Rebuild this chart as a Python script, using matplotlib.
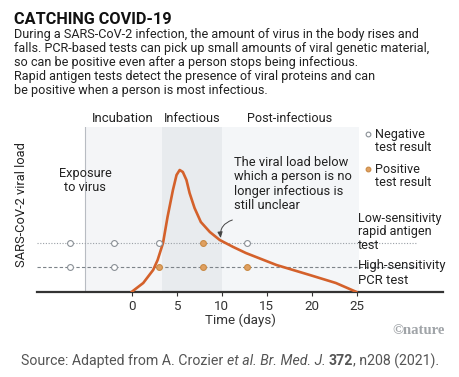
import matplotlib
matplotlib.use("Agg")
import matplotlib.pyplot as plt
import numpy as np

W, H = 460, 377

# viral load curve (days, arbitrary units)
days = [0, 1.3, 2.4, 2.9, 3.5, 4.0, 4.6, 5.0, 5.35, 5.7, 6.1, 6.45, 7.0, 7.7, 8.7, 9.8, 11.3, 12.7, 16.1, 19.8, 22.7, 25]
load = [0, 9, 22, 32, 49, 75, 102, 117, 122, 120, 112, 99, 84, 70, 60, 52, 45, 39, 27, 17, 9, 0]

test_days = [-6.8, -1.9, 3.0, 7.9, 12.8]
antigen_level = 48.7
pcr_level = 25.5
antigen_pos = [False, False, False, True, False]
pcr_pos = [False, False, True, True, True]

phases = ["Incubation", "Infectious", "Post-infectious"]
phase_start = [-5.2, 3.4, 10]
phase_end = [3.4, 10, 25.3]
phase_colors = ["#f4f5f7", "#e8ebee", "#f4f6f8"]
exposure_day = -5.2

xticks = [0, 5, 10, 15, 20, 25]

curve_color = "#d4612b"
pos_color = "#e0a060"
pos_edge = "#c98a45"
neg_edge = "#8a9096"
txt = "#222222"

plt.rcParams['font.family'] = ['Roboto', 'DejaVu Sans']

fig = plt.figure(figsize=(W / 100, H / 100), dpi=100)
fig.canvas.draw()
R = fig.canvas.get_renderer()


def fx(px):
    return px / W


def fy(py):
    return 1 - py / H


def fit(t, width=None, height=None, pitch=None, nlines=1):
    # scale the font so the text spans the width seen in the reference
    bb = t.get_window_extent(renderer=R)
    fs = t.get_fontsize()
    if width is not None:
        fs = fs * width / bb.width
    elif height is not None:
        fs = fs * height / bb.height
    t.set_fontsize(fs)
    if pitch is not None and nlines > 1:
        t.set_linespacing(1.0)
        h1 = t.get_window_extent(renderer=R).height
        s = t.get_text()
        t.set_text(s.split("\n")[0])
        h0 = t.get_window_extent(renderer=R).height
        t.set_text(s)
        cur = (h1 - h0) / (nlines - 1)
        t.set_linespacing(pitch / cur)
    return t


ax = fig.add_axes([fx(37), fy(292), fx(443) - fx(37), fy(127) - fy(292)])
ax.set_xlim(-10.5, 34.6)
ax.set_ylim(0, 165)

for s, e, c in zip(phase_start, phase_end, phase_colors):
    ax.axvspan(s, e, color=c, lw=0, zorder=0)
ax.axvline(exposure_day, color="#b8bcc2", lw=0.8, zorder=1)

ax.axhline(antigen_level, xmin=0.0, xmax=0.935, color="#9aa0a6", lw=0.8, ls=(0, (1, 1.5)), zorder=2)
ax.axhline(pcr_level, xmin=0.0, xmax=0.935, color="#7d8389", lw=0.8, ls=(0, (3, 2)), zorder=2)

ax.plot(days, load, color=curve_color, lw=1.9, zorder=3, solid_capstyle="round")

for d, p in zip(test_days, antigen_pos):
    ax.plot(d, antigen_level, "o", ms=4.2, mfc=pos_color if p else "white",
            mec=pos_edge if p else neg_edge, mew=0.8, zorder=4)
for d, p in zip(test_days, pcr_pos):
    ax.plot(d, pcr_level, "o", ms=4.2, mfc=pos_color if p else "white",
            mec=pos_edge if p else neg_edge, mew=0.8, zorder=4)

for sp in ["top", "right", "left"]:
    ax.spines[sp].set_visible(False)
ax.spines["bottom"].set_color("#333333")
ax.spines["bottom"].set_linewidth(1.6)
ax.set_yticks([])
ax.set_xticks(xticks)
ax.set_xticklabels([str(t) for t in xticks], fontsize=9.6, color="#333333")
ax.tick_params(axis="x", length=3, width=0.8, color="#333333", pad=2.5)
ax.set_xlabel("Time (days)", fontsize=9.6, color="#333333", labelpad=1)

# phase labels
phase_cx = [123, 192, 290]
phase_w = [62, 57, 85]
for name, cx, w in zip(phases, phase_cx, phase_w):
    fit(fig.text(fx(cx), fy(118), name, ha="center", va="center", fontsize=9, color=txt), w)

fit(fig.text(fx(85), fy(180.5), "Exposure\nto virus", ha="center", va="center", fontsize=9,
             color=txt), 53, pitch=14, nlines=2)
fit(fig.text(fx(22), fy(205), "SARS-CoV-2 viral load", ha="center", va="center", rotation=90,
             fontsize=9, color=txt), height=125)

ax.annotate("", xy=(9.9, 54), xytext=(11.2, 72),
            arrowprops=dict(arrowstyle="-|>,head_length=0.35,head_width=0.15", color="#444444",
                            lw=0.7, shrinkA=0, shrinkB=0, connectionstyle="arc3,rad=0.4"))
fit(fig.text(fx(234), fy(184), "The viral load below\nwhich a person is no\nlonger infectious is\nstill unclear",
             ha="left", va="center", fontsize=9, color=txt), 118, pitch=14.6, nlines=4)

# legend
fig.add_artist(plt.Line2D([fx(368)], [fy(134)], marker="o", ms=3.4, mfc="white", mec=neg_edge, mew=0.8))
fig.add_artist(plt.Line2D([fx(368)], [fy(169)], marker="o", ms=3.4, mfc=pos_color, mec=pos_edge, mew=0.8))
fit(fig.text(fx(375), fy(141), "Negative\ntest result", ha="left", va="center", fontsize=9,
             color=txt), 57, pitch=14, nlines=2)
fit(fig.text(fx(375), fy(176), "Positive\ntest result", ha="left", va="center", fontsize=9,
             color=txt), 57, pitch=14, nlines=2)

fit(fig.text(fx(358), fy(232), "Low-sensitivity\nrapid antigen\ntest", ha="left", va="center",
             fontsize=9, color=txt), 84, pitch=14, nlines=3)
fit(fig.text(fx(358), fy(273), "High-sensitivity\nPCR test", ha="left", va="center",
             fontsize=9, color=txt), 89, pitch=14.5, nlines=2)

# header
tt = fig.text(fx(14), fy(24), "CATCHING COVID-19", ha="left", va="baseline", fontsize=14,
              fontweight="bold", family=["Roboto", "DejaVu Sans"], color="#111111")
fit(tt, 158)
body = ("During a SARS-CoV-2 infection, the amount of virus in the body rises and\n"
        "falls. PCR-based tests can pick up small amounts of viral genetic material,\n"
        "so can be positive even after a person stops being infectious.\n"
        "Rapid antigen tests detect the presence of viral proteins and can\n"
        "be positive when a person is most infectious.")
fit(fig.text(fx(14), fy(62.5), body, ha="left", va="center", fontsize=9, color=txt), 417,
    pitch=14.3, nlines=5)

fit(fig.text(fx(445), fy(331), "\u00a9nature", ha="right", va="center", fontsize=10, fontweight="bold",
             color="#a0a4a8", family=["Liberation Serif", "DejaVu Serif"]), 53)

# source line with mixed styles
segs = [("Source: Adapted from A. Crozier ", "normal", "normal"),
        ("et al. Br. Med. J.", "italic", "normal"),
        (" ", "normal", "normal"),
        ("372", "normal", "bold"),
        (", n208 (2021).", "normal", "normal")]
src_fs = 10.2
for _ in range(2):
    xpos = 21
    parts = []
    for s, st, wt in segs:
        t = fig.text(fx(xpos), fy(361), s, ha="left", va="center", fontsize=src_fs, style=st,
                     fontweight=wt, color="#555555")
        xpos += t.get_window_extent(renderer=R).width
        parts.append(t)
    if _ == 0:
        for t in parts:
            t.remove()
        src_fs = src_fs * 418 / (xpos - 21)

fig.savefig("out.png", dpi=100)
